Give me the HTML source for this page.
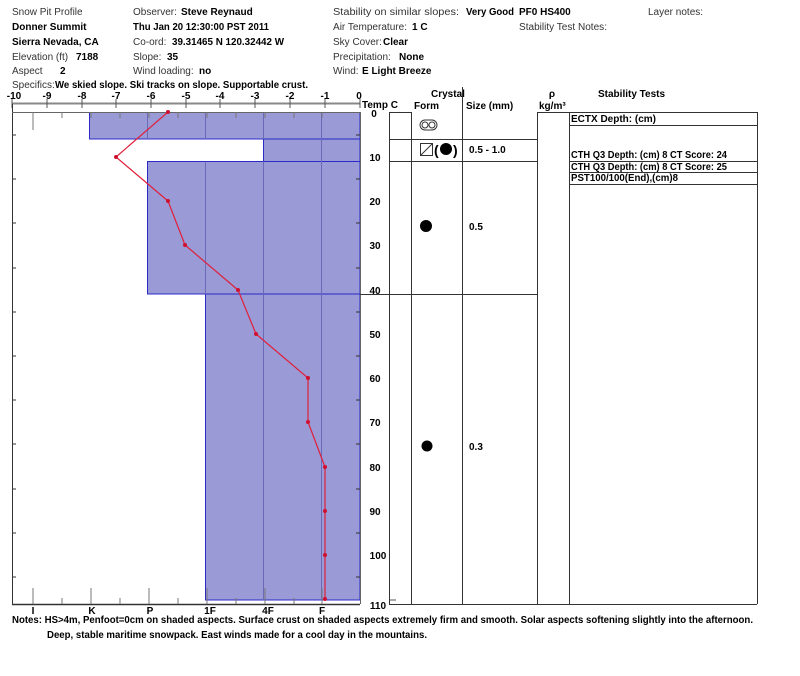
<!DOCTYPE html>
<html><head><style>
body{margin:0;background:#fff;}
svg{display:block;font-family:"Liberation Sans",Arial,sans-serif;}
.t{font-size:10px;fill:#333;}
.b{font-size:10px;font-weight:bold;fill:#000;}
</style></head><body>
<svg width="800" height="676" viewBox="0 0 800 676">
<!-- header -->
<text class="t" x="12" y="15">Snow Pit Profile</text>
<text class="b" x="12" y="30">Donner Summit</text>
<text class="b" x="12" y="45">Sierra Nevada, CA</text>
<text class="t" x="12" y="60">Elevation (ft)</text><text class="b" x="76" y="60">7188</text>
<text class="t" x="12" y="74">Aspect</text><text class="b" x="60" y="74">2</text>
<text class="t" x="12" y="88">Specifics:</text><text class="b" x="55" y="88" textLength="253" lengthAdjust="spacingAndGlyphs">We skied slope. Ski tracks on slope. Supportable crust.</text>
<text class="t" x="133" y="15">Observer:</text><text class="b" x="181" y="15">Steve Reynaud</text>
<text class="b" x="133" y="30" textLength="136" lengthAdjust="spacingAndGlyphs">Thu Jan 20 12:30:00 PST 2011</text>
<text class="t" x="133" y="45">Co-ord:</text><text class="b" x="172" y="45" textLength="112" lengthAdjust="spacingAndGlyphs">39.31465 N 120.32442 W</text>
<text class="t" x="133" y="60">Slope:</text><text class="b" x="167" y="60">35</text>
<text class="t" x="133" y="74">Wind loading:</text><text class="b" x="199" y="74">no</text>
<text class="t" x="333" y="15" textLength="126" lengthAdjust="spacingAndGlyphs">Stability on similar slopes:</text><text class="b" x="466" y="15" textLength="48" lengthAdjust="spacingAndGlyphs">Very Good</text>
<text class="t" x="333" y="30" textLength="74" lengthAdjust="spacingAndGlyphs">Air Temperature:</text><text class="b" x="412" y="30">1 C</text>
<text class="t" x="333" y="45">Sky Cover:</text><text class="b" x="383" y="45">Clear</text>
<text class="t" x="333" y="60">Precipitation:</text><text class="b" x="399" y="60">None</text>
<text class="t" x="333" y="74">Wind:</text><text class="b" x="362" y="74">E Light Breeze</text>
<text class="b" x="519" y="15">PF0 HS400</text>
<text class="t" x="519" y="30" textLength="88" lengthAdjust="spacingAndGlyphs">Stability Test Notes:</text>
<text class="t" x="648" y="15">Layer notes:</text>

<!-- temp axis -->
<g class="b" text-anchor="middle">
<text x="14" y="99">-10</text><text x="47" y="99">-9</text><text x="82" y="99">-8</text><text x="116" y="99">-7</text><text x="151" y="99">-6</text><text x="186" y="99">-5</text><text x="220" y="99">-4</text><text x="255" y="99">-3</text><text x="290" y="99">-2</text><text x="325" y="99">-1</text><text x="359" y="99">0</text>
</g>
<line x1="12" y1="103.5" x2="360" y2="103.5" stroke="#888" stroke-width="2"/>
<g stroke="#555">
<path d="M12 99V108M47 99V108M82 99V108M116 99V108M151 99V108M186 99V108M220 99V108M255 99V108M290 99V108M325 99V108M360 99V108"/>
</g>
<text class="b" x="362" y="108">Temp C</text>

<!-- bars -->
<g fill="#9a9ad6" stroke="#2b2bc8" stroke-width="1">
<rect x="89.5" y="112.5" width="270.5" height="26.5"/>
<rect x="263.5" y="139" width="96.5" height="22.5"/>
<rect x="147.5" y="161.5" width="212.5" height="132.5"/>
<rect x="205.5" y="294" width="154.5" height="306"/>
</g>
<g stroke="#6a6ab8" stroke-width="1">
<path d="M147.5 112.5V139M205.5 112.5V139M263.5 112.5V139M321.5 112.5V139M321.5 139V161.5M205.5 161.5V294M263.5 161.5V294M321.5 161.5V294M263.5 294V600M321.5 294V600"/>
</g>
<!-- frame -->
<g stroke="#333" fill="none">
<line x1="12.5" y1="104" x2="12.5" y2="604"/>
<line x1="12" y1="604.5" x2="360" y2="604.5" stroke-width="1.5"/>
<line x1="12" y1="112.5" x2="360" y2="112.5" stroke="#666"/>
<line x1="360.5" y1="112" x2="360.5" y2="604" stroke="#666"/>
<path stroke="#777" d="M33 112V130M62 112V118M91 112V118M120 112V118M149 112V118M178 112V118M207 112V118M236 112V118M265 112V118M294 112V118M322 112V118"/>
<path stroke="#777" d="M33 588V604M62 598V604M91 588V604M120 598V604M149 588V604M178 598V604M207 588V604M236 598V604M265 588V604M294 598V604M322 588V604"/>
<path d="M12 135H16M12 179H16M12 223H16M12 268H16M12 312H16M12 356H16M12 400H16M12 444H16M12 489H16M12 533H16M12 577H16"/>
<path d="M356 135H360M356 179H360M356 223H360M356 268H360M356 312H360M356 356H360M356 400H360M356 444H360M356 489H360M356 533H360M356 577H360"/>
</g>
<!-- depth labels -->
<g class="b" text-anchor="middle">
<text x="374" y="117">0</text><text x="375" y="161">10</text><text x="375" y="205">20</text><text x="375" y="249">30</text><text x="375" y="294">40</text><text x="375" y="338">50</text><text x="375" y="382">60</text><text x="375" y="426">70</text><text x="375" y="471">80</text><text x="375" y="515">90</text><text x="378" y="559">100</text><text x="378" y="609">110</text>
</g>
<line x1="389" y1="600" x2="396" y2="600" stroke="#555"/>
<!-- hardness labels -->
<g class="b" text-anchor="middle">
<text x="33" y="614">I</text><text x="92" y="614">K</text><text x="150" y="614">P</text><text x="210" y="614">1F</text><text x="268" y="614">4F</text><text x="322" y="614">F</text>
</g>
<!-- temp profile -->
<polyline fill="none" stroke="#e0203a" stroke-width="1.2" points="168,112 116,157 168,201 185,245 238,290 256,334 308,378 308,422 325,467 325,511 325,555 325,599"/>
<g fill="#d01030">
<circle cx="168" cy="112" r="2"/><circle cx="116" cy="157" r="2"/><circle cx="168" cy="201" r="2"/><circle cx="185" cy="245" r="2"/><circle cx="238" cy="290" r="2"/><circle cx="256" cy="334" r="2"/><circle cx="308" cy="378" r="2"/><circle cx="308" cy="422" r="2"/><circle cx="325" cy="467" r="2"/><circle cx="325" cy="511" r="2"/><circle cx="325" cy="555" r="2"/><circle cx="325" cy="599" r="2"/>
</g>

<!-- right table -->
<text class="b" x="431" y="97">Crystal</text>
<text class="b" x="414" y="109">Form</text>
<text class="b" x="466" y="109">Size (mm)</text>
<text class="b" x="552" y="97" text-anchor="middle">ρ</text>
<text class="b" x="539" y="109">kg/m³</text>
<text class="b" x="598" y="97">Stability Tests</text>
<g stroke="#333" fill="none">
<line x1="389.5" y1="112" x2="389.5" y2="604"/>
<line x1="411.5" y1="112" x2="411.5" y2="604"/>
<line x1="462.5" y1="87" x2="462.5" y2="604"/>
<line x1="537.5" y1="112" x2="537.5" y2="604"/>
<line x1="569.5" y1="112" x2="569.5" y2="604"/>
<line x1="757.5" y1="112" x2="757.5" y2="604"/>
<line x1="389" y1="112.5" x2="411" y2="112.5"/>
<line x1="537" y1="112.5" x2="757" y2="112.5"/>
<line x1="389" y1="604.5" x2="757" y2="604.5"/>
<line x1="389" y1="139.5" x2="537" y2="139.5"/>
<line x1="389" y1="161.5" x2="537" y2="161.5"/>
<line x1="360" y1="294.5" x2="537" y2="294.5"/>
<line x1="569" y1="125.5" x2="757" y2="125.5"/>
<line x1="569" y1="161.5" x2="757" y2="161.5"/>
<line x1="569" y1="172.5" x2="757" y2="172.5"/>
<line x1="569" y1="184.5" x2="757" y2="184.5"/>
</g>
<g class="b">
<text x="571" y="122" style="font-size:10px">ECTX   Depth: (cm)</text>
<text x="571" y="158" style="font-size:10px" textLength="156" lengthAdjust="spacingAndGlyphs">CTH Q3 Depth: (cm) 8 CT Score: 24</text>
<text x="571" y="170" style="font-size:10px" textLength="156" lengthAdjust="spacingAndGlyphs">CTH Q3 Depth: (cm) 8 CT Score: 25</text>
<text x="571" y="181" style="font-size:10px" textLength="107" lengthAdjust="spacingAndGlyphs">PST100/100(End),(cm)8</text>
</g>
<!-- crystal symbols -->
<g stroke="#333" fill="none">
<rect x="420" y="120" width="17" height="10" rx="5"/>
<circle cx="425" cy="125" r="3"/><circle cx="432" cy="125" r="3"/>
<rect x="420.5" y="143.5" width="12" height="12"/><line x1="420.5" y1="155.5" x2="432.5" y2="143.5"/>
</g>
<text x="434" y="155" style="font-size:14px;font-weight:bold">(</text>
<circle cx="446" cy="149" r="6" fill="#000"/>
<text x="453" y="155" style="font-size:14px;font-weight:bold">)</text>
<text class="b" x="469" y="153">0.5 - 1.0</text>
<circle cx="426" cy="226" r="6" fill="#000"/>
<text class="b" x="469" y="230">0.5</text>
<circle cx="427" cy="446" r="5.5" fill="#000"/>
<text class="b" x="469" y="450">0.3</text>

<!-- notes -->
<text class="b" x="12" y="623" textLength="741" lengthAdjust="spacingAndGlyphs">Notes:  HS&gt;4m, Penfoot=0cm on shaded aspects.  Surface crust on shaded aspects extremely firm and smooth.  Solar aspects softening slightly into the afternoon.</text>
<text class="b" x="47" y="638" textLength="380" lengthAdjust="spacingAndGlyphs">Deep, stable maritime snowpack.  East winds made for a cool day in the mountains.</text>
</svg>
</body></html>
